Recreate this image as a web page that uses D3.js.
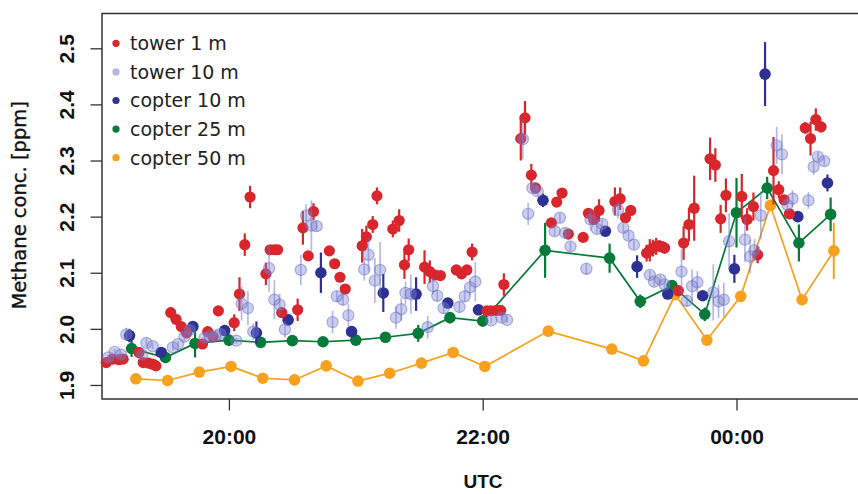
<!DOCTYPE html>
<html><head><meta charset="utf-8">
<script src="https://cdn.jsdelivr.net/npm/d3@7"></script>
<style>html,body{margin:0;padding:0;background:#fff;}svg{display:block;}</style>
</head><body>
<svg id="chart" width="858" height="494"></svg>
<script>
// ---------- data (time UTC, methane ppm, error half-width) ----------
const seriesNames = ["tower 1 m", "tower 10 m", "copter 10 m", "copter 25 m", "copter 50 m"];
const xTickLabels = ["20:00", "22:00", "00:00"];
const yTickValues = [1.9, 2.0, 2.1, 2.2, 2.3, 2.4, 2.5];

const tower1 = [
["19:02",1.940,0.005],["19:05",1.946,0.005],["19:08",1.945,0.005],["19:10",1.946,0.005],
["19:17:30",1.958,0.005],["19:19:30",1.940,0.005],["19:22",1.939,0.005],["19:24",1.937,0.005],["19:25:30",1.934,0.005],
["19:32:30",2.029,0.01],["19:35",2.017,0.008],["19:37:30",2.004,0.008],["19:40",1.993,0.008],
["19:47:30",1.973,0.008],["19:50",1.995,0.008],["19:52:30",1.986,0.008],["19:55",2.032,0.008],
["20:02:30",2.011,0.015],["20:05",2.062,0.03],["20:07:30",2.150,0.02],["20:10",2.235,0.02],
["20:17:30",2.098,0.02],["20:19:30",2.141,0.008],["20:21:30",2.141,0.008],["20:23",2.141,0.008],["20:25",2.029,0.008],
["20:32:30",2.034,0.02],["20:35",2.180,0.03],["20:37:30",2.130,0.008],["20:40",2.209,0.015],
["20:47:30",2.139,0.008],["20:50",2.116,0.008],["20:52:30",2.092,0.008],["20:55",2.071,0.008],
["21:03",2.148,0.03],["21:05",2.164,0.02],["21:08",2.186,0.015],["21:10",2.237,0.015],
["21:17:30",2.178,0.015],["21:20:30",2.193,0.02],["21:23",2.114,0.025],["21:25",2.141,0.02],
["21:32:30",2.110,0.03],["21:35",2.102,0.02],["21:37:30",2.096,0.008],["21:40",2.095,0.008],
["21:47:30",2.105,0.008],["21:50",2.098,0.008],["21:52:30",2.105,0.008],["21:55",2.137,0.015],
["22:02",2.032,0.008],["22:04",2.032,0.008],["22:06:30",2.033,0.008],["22:08:30",2.033,0.008],["22:10",2.079,0.02],
["22:18",2.339,0.039],["22:20",2.376,0.03],["22:23",2.274,0.02],["22:25",2.251,0.01],
["22:32:30",2.189,0.008],["22:35",2.226,0.008],["22:37:30",2.242,0.008],["22:40:30",2.169,0.008],
["22:47:30",2.163,0.008],["22:50",2.206,0.008],["22:52:30",2.195,0.008],["22:55",2.211,0.02],
["23:02:30",2.227,0.025],["23:05",2.232,0.02],["23:07:30",2.198,0.008],["23:10",2.211,0.008],
["23:17:30",2.135,0.015],["23:19",2.140,0.02],["23:20:30",2.144,0.015],["23:22",2.147,0.015],
["23:23:30",2.148,0.01],["23:25",2.146,0.01],["23:26",2.144,0.01],
["23:32:30",2.068,0.01],["23:35",2.153,0.03],["23:37:30",2.186,0.03],["23:40",2.215,0.058],
["23:47:30",2.303,0.038],["23:50",2.292,0.03],["23:52:30",2.196,0.025],["23:55",2.238,0.03],
["00:02:30",2.236,0.04],["00:05",2.195,0.02],["00:08",2.218,0.025],["00:10",2.132,0.015],
["00:17:30",2.282,0.06],["00:20",2.248,0.015],["00:22:30",2.230,0.008],["00:25",2.205,0.008],
["00:32:30",2.358,0.01],["00:35",2.339,0.03],["00:37:30",2.373,0.02],["00:40",2.360,0.01]
];

const tower10 = [
["19:03",1.949,0.005],["19:06",1.959,0.005],["19:09",1.954,0.005],["19:11:30",1.990,0.012],
["19:19",1.954,0.005],["19:21",1.975,0.008],["19:24",1.969,0.005],
["19:33:30",1.967,0.005],["19:36",1.973,0.005],["19:39",1.986,0.008],["19:41:30",1.998,0.008],
["19:48:30",1.984,0.008],["19:51",1.987,0.005],["19:53:30",1.988,0.005],["19:56",1.991,0.008],
["20:03:30",1.979,0.005],["20:06",2.045,0.03],["20:09",2.037,0.03],["20:11:30",1.995,0.015],
["20:19",2.108,0.042],["20:21:30",2.052,0.035],["20:24",2.043,0.02],["20:26:30",1.999,0.015],
["20:34",2.105,0.027],["20:36:30",2.202,0.02],["20:39",2.184,0.045],["20:41:30",2.183,0.01],
["20:49",2.012,0.02],["20:51",2.058,0.01],["20:54",2.052,0.01],["20:56:30",2.024,0.02],
["21:04",2.106,0.02],["21:06",2.132,0.03],["21:09",2.086,0.04],["21:11:30",2.105,0.05],
["21:19",2.020,0.02],["21:21:30",2.035,0.02],["21:23:30",2.064,0.02],["21:26",2.062,0.035],
["21:34",2.003,0.02],["21:36:30",2.076,0.015],["21:38:30",2.059,0.01],["21:41:30",2.037,0.01],
["21:49",2.039,0.01],["21:51:30",2.058,0.01],["21:54",2.074,0.015],["21:56:30",2.084,0.035],
["22:04",2.015,0.005],["22:09",2.020,0.005],["22:11:30",2.016,0.005],
["22:19",2.338,0.036],["22:21:30",2.205,0.02],["22:23:30",2.251,0.008],["22:26",2.245,0.008],
["22:34",2.174,0.008],["22:36:30",2.198,0.008],["22:39",2.171,0.008],["22:41:30",2.147,0.008],
["22:49",2.107,0.01],["22:51",2.195,0.02],["22:54",2.178,0.008],["22:56:30",2.187,0.008],
["23:04",2.212,0.015],["23:06:30",2.180,0.008],["23:09",2.166,0.008],["23:11:30",2.150,0.008],
["23:19",2.096,0.008],["23:21",2.084,0.008],["23:24",2.088,0.008],["23:26",2.079,0.008],
["23:34",2.102,0.04],["23:36:30",2.050,0.01],["23:39",2.076,0.03],["23:41:30",2.083,0.02],
["23:49",2.065,0.05],["23:51:30",2.049,0.03],["23:54",2.052,0.03],["23:56:30",2.156,0.05],
["00:04",2.159,0.04],["00:06:30",2.129,0.03],["00:08:30",2.140,0.02],["00:11:30",2.202,0.043],
["00:19",2.327,0.033],["00:21:30",2.311,0.036],["00:24",2.221,0.01],["00:26:30",2.232,0.015],
["00:34",2.229,0.015],["00:36:30",2.289,0.015],["00:38:30",2.307,0.008],["00:41:30",2.299,0.008]
];

const copter10 = [
["19:13",1.988,0.012],["19:28",1.958,0.008],["19:43",2.004,0.008],["19:58",1.997,0.008],
["20:13",1.993,0.02],["20:28",2.016,0.01],["20:43:30",2.100,0.036],["20:58",1.995,0.008],
["21:13",2.064,0.034],["21:28:30",2.062,0.03],["21:43:30",2.046,0.008],["21:58",2.034,0.008],
["22:28:30",2.229,0.012],["22:58",2.174,0.008],["23:13",2.111,0.02],["23:27:30",2.062,0.008],
["23:44",2.059,0.008],["23:59",2.107,0.025],["00:13:30",2.454,0.057],["00:29",2.200,0.008],
["00:43",2.260,0.015]
];

const copter25 = [
["19:14",1.965,0.015],["19:30",1.949,0.01],["19:44",1.974,0.025],["20:00",1.980,0.01],
["20:15",1.976,0.008],["20:30",1.979,0.008],["20:44:30",1.977,0.008],["21:00",1.980,0.008],
["21:14",1.985,0.008],["21:29:30",1.992,0.015],["21:44:30",2.020,0.01],["22:00",2.014,0.01],
["22:29:30",2.140,0.049],["23:00",2.126,0.026],["23:14:30",2.049,0.012],["23:29:30",2.077,0.01],
["23:45",2.026,0.012],["00:00",2.207,0.062],["00:14:30",2.251,0.02],["00:29:30",2.153,0.033],
["00:44:30",2.204,0.03]
];

const copter50 = [
["19:16",1.911,0.005],["19:31",1.908,0.005],["19:46",1.923,0.005],["20:01",1.933,0.005],
["20:16",1.912,0.005],["20:31",1.909,0.005],["20:46",1.934,0.005],["21:01",1.907,0.005],
["21:16",1.921,0.005],["21:31",1.939,0.005],["21:46",1.958,0.005],["22:01",1.933,0.005],
["22:31",1.996,0.005],["23:01",1.964,0.005],["23:16",1.943,0.005],["23:31",2.061,0.008],
["23:46",1.980,0.005],["00:02",2.058,0.005],["00:16",2.220,0.01],["00:31",2.052,0.005],
["00:46",2.139,0.05]
];

// ---------- helpers ----------
function toMin(s) {
  const p = s.split(":").map(Number);
  let m = p[0] * 60 + p[1] + (p[2] || 0) / 60;
  if (p[0] < 12) m += 1440;
  return m;
}
const rows = arr => arr.map(d => ({t: toMin(d[0]), v: d[1], e: d[2]}));

const svg = d3.select("#chart");
const L = 102, R = 856, T = 13.5, B = 399;

const x = d3.scaleLinear().domain([toMin("19:00"), toMin("19:00") + 356.5]).range([L, R]);
const y = d3.scaleLinear().domain([1.875, 2.562]).range([B, T]);

const col = {
  red: "#D8262C", lavFill: "rgba(128,132,210,0.4)", lavStroke: "rgba(105,110,200,0.5)",
  navy: "#2E3192", green: "#067A38", orange: "#F8A11E"
};

// ---------- axes ----------
const xAxis = d3.axisBottom(x)
  .tickValues(xTickLabels.map(toMin))
  .tickFormat((d, i) => xTickLabels[i])
  .tickSize(11.5);
const gx = svg.append("g").attr("transform", `translate(0,${B})`).call(xAxis);
gx.select(".domain").remove();
gx.selectAll(".tick line").attr("stroke", "#333").attr("stroke-width", 1.3);
gx.selectAll(".tick text").attr("y", 45).attr("dy", 0)
  .attr("font-family", "'Liberation Sans', Arial, sans-serif").attr("font-weight", "bold")
  .attr("font-size", 21).attr("fill", "#111");

const yAxis = d3.axisLeft(y).tickValues(yTickValues).tickFormat(d3.format(".1f")).tickSize(11.5);
const gy = svg.append("g").attr("transform", `translate(${L},0)`).call(yAxis);
gy.select(".domain").remove();
gy.selectAll(".tick line").attr("stroke", "#333").attr("stroke-width", 1.3);
gy.selectAll(".tick text").attr("x", 0).attr("dy", 0).attr("text-anchor", "middle")
  .attr("transform", "translate(-28,0) rotate(-90)")
  .attr("font-family", "'Liberation Sans', Arial, sans-serif").attr("font-weight", "bold")
  .attr("font-size", 21).attr("fill", "#111");

// frame
svg.append("rect").attr("x", L).attr("y", T).attr("width", 870 - L).attr("height", B - T)
  .attr("fill", "none").attr("stroke", "#333").attr("stroke-width", 1.5);

// axis titles
svg.append("text").attr("transform", `translate(26,${(T + B) / 2 - 1}) rotate(-90)`)
  .attr("text-anchor", "middle").attr("font-family", "'DejaVu Sans', sans-serif")
  .attr("font-size", 19.5).attr("fill", "#111").attr("stroke", "#111").attr("stroke-width", 0.35)
  .text("Methane conc. [ppm]");
svg.append("text").attr("x", 483).attr("y", 488).attr("text-anchor", "middle")
  .attr("font-family", "'Liberation Sans', Arial, sans-serif").attr("font-weight", "bold")
  .attr("font-size", 19).attr("fill", "#111").text("UTC");

// ---------- marks ----------
const plot = svg.append("g");
const line = d3.line().x(d => x(d.t)).y(d => y(d.v));

function drawSeries(data, fill, stroke, r, ebColor, ebWidth, withLine) {
  const g = plot.append("g");
  if (withLine) g.append("path").datum(data).attr("d", line).attr("fill", "none")
    .attr("stroke", fill).attr("stroke-width", 1.7);
  g.selectAll("line.eb").data(data).join("line").attr("class", "eb")
    .attr("x1", d => x(d.t)).attr("x2", d => x(d.t))
    .attr("y1", d => y(d.v - d.e)).attr("y2", d => y(d.v + d.e))
    .attr("stroke", ebColor).attr("stroke-width", ebWidth);
  g.selectAll("circle").data(data).join("circle")
    .attr("cx", d => x(d.t)).attr("cy", d => y(d.v)).attr("r", r)
    .attr("fill", fill).attr("stroke", stroke || "none").attr("stroke-width", 1.2);
}

drawSeries(rows(copter50), col.orange, null, 5.8, col.orange, 2, true);
drawSeries(rows(copter25), col.green, null, 5.8, col.green, 2.2, true);
drawSeries(rows(copter10), col.navy, null, 5.8, col.navy, 2.2, false);
drawSeries(rows(tower1), col.red, null, 5.6, col.red, 2.2, false);
drawSeries(rows(tower10), col.lavFill, col.lavStroke, 5.6, "rgba(110,115,200,0.5)", 1.7, false);

// ---------- legend ----------
const legColors = [col.red, "#B4B7E4", col.navy, col.green, col.orange];
const leg = svg.append("g");
seriesNames.forEach((name, i) => {
  const yy = 43.3 + i * 28.6;
  leg.append("circle").attr("cx", 116).attr("cy", yy).attr("r", 3.6).attr("fill", legColors[i]);
  leg.append("text").attr("x", 130).attr("y", yy).attr("dy", "0.36em")
    .attr("font-family", "'DejaVu Sans', sans-serif").attr("font-size", 19)
    .attr("fill", "#222").text(name);
});
</script>
</body></html>
